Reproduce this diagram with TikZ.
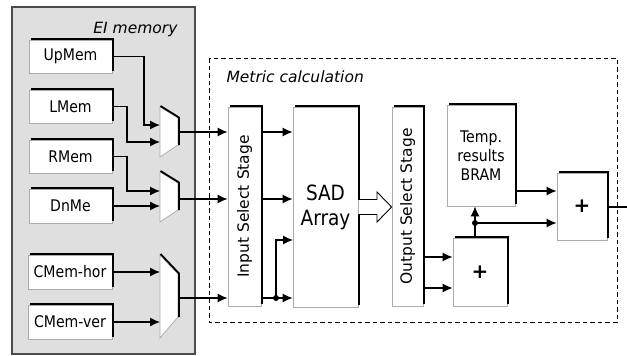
\documentclass[tikz,border=0pt]{standalone}
\usepackage{fontspec}
\setmainfont{DejaVu Sans}
\newfontfamily\narrowfont[FakeStretch=0.88]{DejaVu Sans}
\usetikzlibrary{arrows.meta,calc}

\tikzset{
  blk/.style={draw=gray!65, fill=white, line width=0.8pt, inner sep=0pt, align=center,
    font=\narrowfont\fontsize{16}{19}\selectfont},
  muxbody/.style={draw=gray!65, fill=white, line width=0.8pt},
  rim/.style={line width=1.8pt, line join=miter},
  conn/.style={line width=1.2pt, -{Latex[length=10pt,width=9pt]}},
  wire/.style={line width=1.2pt},
  joint/.style={circle, fill, inner sep=0pt, minimum size=6pt},
  caption/.style={font=\itshape\fontsize{15.5}{18}\selectfont},
  stagelabel/.style={rotate=90, font=\fontsize{15.5}{18}\selectfont},
}

\begin{document}
\begin{tikzpicture}[x=1pt,y=-1pt]
    \useasboundingbox (0,0) rectangle (627,356);

    % EI memory
    \draw[fill=gray!25, draw=gray!60!black, line width=1.2pt] (12,7) rectangle (195,354);
    \node[caption, anchor=east] (eilabel) at (181,29) {EI memory};
    \node[blk, minimum width=83pt, minimum height=33pt] (upmem) at (70.5,56.5) {UpMem};
    \node[blk, minimum width=83pt, minimum height=33pt] (lmem) at (70.5,106.5) {LMem};
    \node[blk, minimum width=83pt, minimum height=33pt] (rmem) at (70.5,156.5) {RMem};
    \node[blk, minimum width=83pt, minimum height=34pt] (dnme) at (70.5,206) {DnMe};
    \node[blk, minimum width=84pt, minimum height=34pt] (cmemh) at (70,272) {CMem-hor};
    \node[blk, minimum width=84pt, minimum height=34pt] (cmemv) at (70,322) {CMem-ver};

    % multiplexers
    \draw[muxbody] (160,107) -- (178,118) -- (178,145) -- (160,157) -- cycle;
    \draw[muxbody] (160,172) -- (178,183) -- (178,210) -- (160,222) -- cycle;
    \draw[muxbody] (160,255) -- (178,274) -- (178,317) -- (160,338) -- cycle;
    \draw[rim] (160.5,106) -- (179,117.5) -- (179,145);
    \draw[rim] (160.5,171) -- (179,182.5) -- (179,210);
    \draw[rim] (160.5,254) -- (179,273.5) -- (179,317);
    \coordinate (m1a) at (160,125);
    \coordinate (m1b) at (160,142);
    \coordinate (m2a) at (160,191);
    \coordinate (m2b) at (160,206);
    \coordinate (m3a) at (160,272);
    \coordinate (m3b) at (160,322);
    \coordinate (m1out) at (178,132);
    \coordinate (m2out) at (178,199);
    \coordinate (m3out) at (178,298);

    % metric calculation
    \draw[dash pattern=on 4.5pt off 3pt, line width=0.8pt] (209,58) rectangle (617,322);
    \node[caption, anchor=west] (mclabel) at (223,77) {Metric calculation};

    \node[blk, minimum width=33pt, minimum height=199pt] (iss) at (244.5,206.5) {};
    \node[stagelabel] (isslabel) at (iss) {Input Select Stage};
    \node[blk, minimum width=65pt, minimum height=200pt, font=\narrowfont\fontsize{21}{25}\selectfont] (sad) at (325.5,207) {SAD\\Array};
    \node[blk, minimum width=31pt, minimum height=199pt] (oss) at (407.5,206.5) {};
    \node[stagelabel] (osslabel) at (oss) {Output Select Stage};
    \node[blk, minimum width=68pt, minimum height=101pt] (bram) at (481,155.5) {Temp.\\results\\BRAM};
    \node[blk, minimum width=54pt, minimum height=68pt, font=\bfseries\fontsize{20}{22}\selectfont] (add1) at (480,272) {+};
    \node[blk, minimum width=50pt, minimum height=67pt, font=\bfseries\fontsize{20}{22}\selectfont] (add2) at (582,206.5) {+};

    \foreach \n in {upmem,lmem,rmem,dnme,cmemh,cmemv,iss,sad,oss,bram,add1,add2}
        \draw[rim] ([shift={(2pt,0.6pt)}]\n.north west) -- ([shift={(0.6pt,0.6pt)}]\n.north east)
            -- ([shift={(0.6pt,2pt)}]\n.south east);

    % memories to multiplexers
    \draw[conn] (upmem.east) -| ([xshift=-16pt]m1a) -- (m1a);
    \draw[conn] (lmem.east) -| ([xshift=-33pt]m1b) -- (m1b);
    \draw[conn] (rmem.east) -| ([xshift=-33pt]m2a) -- (m2a);
    \draw[conn] (dnme.east) -- (m2b);
    \draw[conn] (cmemh.east) -- (m3a);
    \draw[conn] (cmemv.east) -- (m3b);

    % multiplexers to input stage
    \draw[conn] (m1out) -- (m1out -| iss.west);
    \draw[conn] (m2out) -- (m2out -| iss.west);
    \draw[conn] (m3out) -- (m3out -| iss.west);

    % input stage to SAD array
    \draw[conn] (m1out -| iss.east) -- (m1out -| sad.west);
    \draw[conn] (m2out -| iss.east) -- (m2out -| sad.west);
    \draw[conn] (m3out -| iss.east) -- (m3out -| sad.west);
    \node[joint] (split) at (276,298) {};
    \coordinate (sadin) at (293,240);
    \draw[conn] (split.center) |- (sadin);

    % SAD array to output stage
    \draw[line width=0.9pt, fill=white, line join=miter] (sad.east |- 0,199.5) -- (377,199.5) -- (377,192)
        -- (oss.west |- 0,207) -- (377,222) -- (377,214.5) -- (sad.east |- 0,214.5);

    % output stage to adders
    \draw[conn] (oss.east |- 0,257) -- (add1.west |- 0,257);
    \draw[conn] (oss.east |- 0,288) -- (add1.west |- 0,288);
    \coordinate (a1top) at ([xshift=-5pt]add1.north);
    \node[joint] (tap) at (a1top |- 0,223) {};
    \draw[conn] (a1top) -- (a1top |- bram.south);
    \draw[conn] (tap.center) -- (add2.west |- 0,223);
    \draw[conn] (bram.east |- 0,191) -- (add2.west |- 0,191);
    \coordinate (result) at (627,207);
    \draw[wire] (add2.east |- result) -- (result);
\end{tikzpicture}
\end{document}
